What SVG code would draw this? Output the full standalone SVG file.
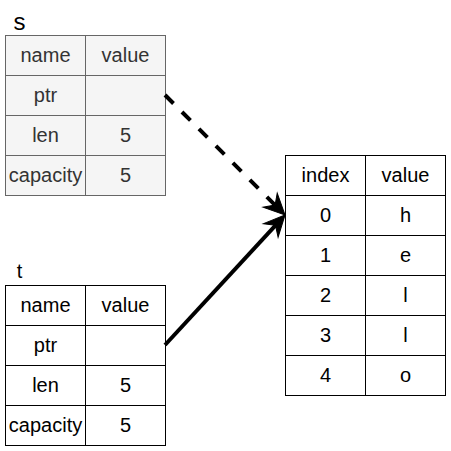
<svg xmlns="http://www.w3.org/2000/svg" width="451" height="451" viewBox="0 0 451 451">
  <style>
    text { font-family: "Liberation Sans", Arial, Helvetica, sans-serif; font-size: 20px; text-anchor: middle; }
    .gray rect { fill: #f5f5f5; stroke: #666666; stroke-width: 1; }
    .gray text { fill: #333333; }
    .plain rect { fill: #ffffff; stroke: #000000; stroke-width: 1; }
    .plain text { fill: #000000; }
    g text.label { text-anchor: start; fill: #000000; }
    .conn { fill: none; stroke: #000000; stroke-width: 4; }
    .dashed { stroke-dasharray: 12 12; }
  </style>
  <defs>
    <marker id="arrow" markerUnits="userSpaceOnUse" orient="auto" refX="0" refY="0" markerWidth="30" markerHeight="30" overflow="visible">
      <path d="M14,0 L-7,-10 L0,0 L-7,10 Z" fill="#000000" stroke="#000000" stroke-width="1" stroke-linejoin="miter"/>
    </marker>
  </defs>

  <rect width="451" height="451" fill="#ffffff"/>

  <g id="node-s" class="gray">
    <text class="label" x="13.5" y="29.7" style="font-size:24px">s</text>
    <rect x="5.5" y="35.5" width="80" height="40"/>
    <rect x="85.5" y="35.5" width="80" height="40"/>
    <rect x="5.5" y="75.5" width="80" height="40"/>
    <rect x="85.5" y="75.5" width="80" height="40"/>
    <rect x="5.5" y="115.5" width="80" height="40"/>
    <rect x="85.5" y="115.5" width="80" height="40"/>
    <rect x="5.5" y="155.5" width="80" height="40"/>
    <rect x="85.5" y="155.5" width="80" height="40"/>
    <text x="45.5" y="62">name</text>
    <text x="125.5" y="62">value</text>
    <text x="45.5" y="102">ptr</text>
    <text x="45.5" y="142">len</text>
    <text x="125.5" y="142">5</text>
    <text x="45.5" y="182">capacity</text>
    <text x="125.5" y="182">5</text>
  </g>

  <g id="node-t" class="plain">
    <text class="label" x="16.7" y="277.5">t</text>
    <rect x="5.5" y="285.5" width="80" height="40"/>
    <rect x="85.5" y="285.5" width="80" height="40"/>
    <rect x="5.5" y="325.5" width="80" height="40"/>
    <rect x="85.5" y="325.5" width="80" height="40"/>
    <rect x="5.5" y="365.5" width="80" height="40"/>
    <rect x="85.5" y="365.5" width="80" height="40"/>
    <rect x="5.5" y="405.5" width="80" height="40"/>
    <rect x="85.5" y="405.5" width="80" height="40"/>
    <text x="45.5" y="312">name</text>
    <text x="125.5" y="312">value</text>
    <text x="45.5" y="352">ptr</text>
    <text x="45.5" y="392">len</text>
    <text x="125.5" y="392">5</text>
    <text x="45.5" y="432">capacity</text>
    <text x="125.5" y="432">5</text>
  </g>

  <g id="node-heap" class="plain">
    <rect x="285.5" y="155.5" width="80" height="40"/>
    <rect x="365.5" y="155.5" width="80" height="40"/>
    <rect x="285.5" y="195.5" width="80" height="40"/>
    <rect x="365.5" y="195.5" width="80" height="40"/>
    <rect x="285.5" y="235.5" width="80" height="40"/>
    <rect x="365.5" y="235.5" width="80" height="40"/>
    <rect x="285.5" y="275.5" width="80" height="40"/>
    <rect x="365.5" y="275.5" width="80" height="40"/>
    <rect x="285.5" y="315.5" width="80" height="40"/>
    <rect x="365.5" y="315.5" width="80" height="40"/>
    <rect x="285.5" y="355.5" width="80" height="40"/>
    <rect x="365.5" y="355.5" width="80" height="40"/>
    <text x="325.5" y="182">index</text>
    <text x="405.5" y="182">value</text>
    <text x="325.5" y="222">0</text>
    <text x="405.5" y="222">h</text>
    <text x="325.5" y="262">1</text>
    <text x="405.5" y="262">e</text>
    <text x="325.5" y="302">2</text>
    <text x="405.5" y="302">l</text>
    <text x="325.5" y="342">3</text>
    <text x="405.5" y="342">l</text>
    <text x="325.5" y="382">4</text>
    <text x="405.5" y="382">o</text>
  </g>

  <g id="connectors">
    <path class="conn dashed" d="M165,95 L275.1,205.1" marker-end="url(#arrow)"/>
    <path class="conn" d="M165,345 L275.5,225.3" marker-end="url(#arrow)"/>
  </g>
</svg>
